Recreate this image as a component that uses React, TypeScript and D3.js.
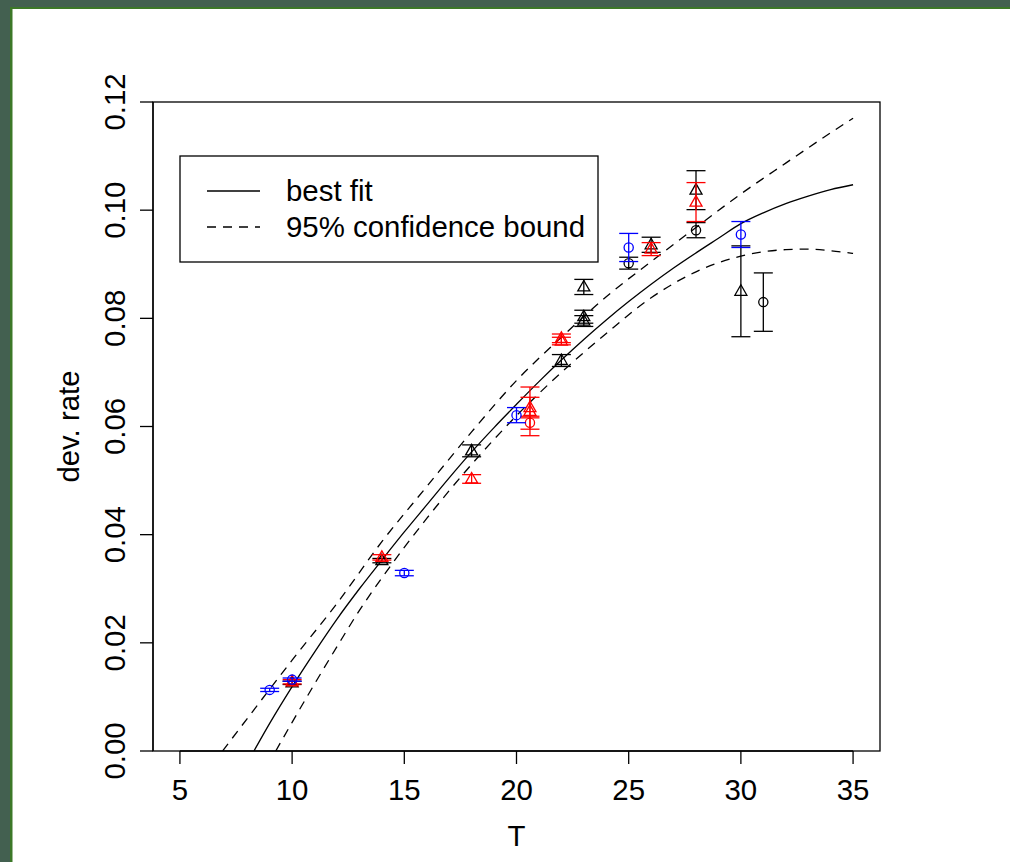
import * as d3 from "d3";
import { useEffect, useRef } from "react";

// x ticks / y ticks as printed on the axes
const xTicks = [5, 10, 15, 20, 25, 30, 35];
const yTicks = [0, 0.02, 0.04, 0.06, 0.08, 0.1, 0.12];

// curves: [T, rate]
const bestFit: [number, number][] = [
  [8.3, 0], [9, 0.0051], [10, 0.0119], [11, 0.0183], [12, 0.0244], [13, 0.03],
  [14, 0.0353], [15, 0.0405], [16, 0.0455], [17, 0.0505], [18, 0.0553],
  [19, 0.0598], [20, 0.0641], [21, 0.0683], [22, 0.0723], [23, 0.0761],
  [24, 0.0797], [25, 0.0831], [26, 0.0863], [27, 0.0893], [28, 0.0921],
  [29, 0.0948], [30, 0.0975], [31, 0.0995], [32, 0.1012], [33, 0.1026],
  [34, 0.1038], [35, 0.1047],
];
const upperBound: [number, number][] = [
  [6.9, 0], [8, 0.006], [10, 0.0168], [12, 0.0273], [14, 0.0387], [16, 0.0489],
  [18, 0.059], [20, 0.0685], [22, 0.0765], [24, 0.084], [26, 0.0905],
  [28, 0.0968], [30, 0.103], [32, 0.1087], [34, 0.1143], [35, 0.117],
];
const lowerBound: [number, number][] = [
  [9.27, 0], [10, 0.0053], [11, 0.0124], [12, 0.0193], [13, 0.026], [14, 0.032],
  [16, 0.043], [18, 0.053], [20, 0.062], [22, 0.07], [24, 0.0772], [26, 0.0838],
  [28, 0.0886], [30, 0.0915], [32, 0.0927], [33, 0.0928], [34, 0.0925], [35, 0.092],
];

// observations: [T, rate, half error]
const blueCircles = [
  [9, 0.0113, 0.0003], [10, 0.0132, 0.0003], [15, 0.0329, 0.0005],
  [20, 0.0621, 0.0014], [25, 0.0931, 0.0026], [30, 0.0955, 0.0024],
];
const redTriangles = [
  [10, 0.0128, 0.0004], [14, 0.0358, 0.0005], [18, 0.0503, 0.0008],
  [20.6, 0.0628, 0.0045], [20.6, 0.0635, 0.0019], [22, 0.0763, 0.0008],
  [22, 0.0758, 0.0007], [26, 0.0928, 0.0012], [28, 0.1015, 0.0036],
];
const redCircles = [[20.6, 0.0607, 0.0012]];
const blackTriangles = [
  [10, 0.0126, 0.0003], [14, 0.0352, 0.0004], [18, 0.0555, 0.0011],
  [22, 0.0722, 0.0011], [23, 0.0858, 0.0014], [23, 0.0803, 0.0012],
  [23, 0.0795, 0.001], [26, 0.0936, 0.0014], [28, 0.1037, 0.0036],
  [30, 0.085, 0.0084],
];
const blackCircles = [[25, 0.0902, 0.0011], [28, 0.0963, 0.0014], [31, 0.083, 0.0054]];

const legendLabels = ["best fit", "95% confidence bound"];

const W = 1010;
const H = 862;
const FONT = "Liberation Sans, Arial, sans-serif";

function App() {
  const ref = useRef(null);

  useEffect(() => {
    const svg = d3.select(ref.current);
    svg.selectAll("*").remove();

    const x = d3.scaleLinear().domain([3.8, 36.2]).range([153, 880]);
    const y = d3.scaleLinear().domain([0, 0.12]).range([751, 102]);

    svg.append("rect").attr("width", W).attr("height", H).attr("fill", "white");
    // window frame
    svg.append("rect").attr("width", W).attr("height", 9).attr("fill", "#3c7828");
    svg.append("rect").attr("width", 12.5).attr("height", H).attr("fill", "#3c7828");
    svg.append("rect").attr("width", W).attr("height", 7).attr("fill", "#436050");
    svg.append("rect").attr("width", 10).attr("height", H).attr("fill", "#436050");

    const g = svg.append("g").attr("font-family", FONT).attr("font-size", 29.4);

    // plot box
    g.append("rect")
      .attr("x", 153).attr("y", 102).attr("width", 727).attr("height", 649)
      .attr("fill", "none").attr("stroke", "black").attr("stroke-width", 1.3);

    // x axis
    const xa = g.append("g");
    xa.append("line")
      .attr("x1", x(5)).attr("x2", x(35)).attr("y1", 751).attr("y2", 751)
      .attr("stroke", "black").attr("stroke-width", 1.3);
    xTicks.forEach((t) => {
      xa.append("line")
        .attr("x1", x(t)).attr("x2", x(t)).attr("y1", 751).attr("y2", 764)
        .attr("stroke", "black").attr("stroke-width", 1.3);
      xa.append("text")
        .attr("x", x(t)).attr("y", 800).attr("text-anchor", "middle").text(t);
    });
    g.append("text").attr("x", x(20)).attr("y", 846).attr("text-anchor", "middle").text("T");

    // y axis
    const ya = g.append("g");
    ya.append("line")
      .attr("x1", 153).attr("x2", 153).attr("y1", y(0)).attr("y2", y(0.12))
      .attr("stroke", "black").attr("stroke-width", 1.3);
    yTicks.forEach((t) => {
      ya.append("line")
        .attr("x1", 140).attr("x2", 153).attr("y1", y(t)).attr("y2", y(t))
        .attr("stroke", "black").attr("stroke-width", 1.3);
      ya.append("text")
        .attr("transform", `translate(125,${y(t)}) rotate(-90)`)
        .attr("text-anchor", "middle")
        .text(d3.format(".2f")(t));
    });
    g.append("text")
      .attr("transform", `translate(79,${y(0.06)}) rotate(-90)`)
      .attr("text-anchor", "middle")
      .text("dev. rate");

    // curves, clipped to the plot region
    svg.append("clipPath").attr("id", "plotclip")
      .append("rect").attr("x", 153).attr("y", 102).attr("width", 727).attr("height", 649);
    const line = d3.line<[number, number]>()
      .x((d) => x(d[0]))
      .y((d) => y(d[1]))
      .curve(d3.curveMonotoneX);
    const curves = g.append("g").attr("clip-path", "url(#plotclip)");
    curves.append("path").attr("d", line(bestFit))
      .attr("fill", "none").attr("stroke", "black").attr("stroke-width", 1.3);
    [upperBound, lowerBound].forEach((c) => {
      curves.append("path").attr("d", line(c))
        .attr("fill", "none").attr("stroke", "black").attr("stroke-width", 1.3)
        .attr("stroke-dasharray", "9,7");
    });

    // error bars + symbols
    const drawSet = (data: number[][], color: string, shape: "circle" | "triangle") => {
      const s = g.append("g").attr("stroke", color).attr("fill", "none").attr("stroke-width", 1.3);
      data.forEach(([t, r, e]) => {
        const cx = x(t);
        const cy = y(r);
        const top = y(r + e);
        const bot = y(r - e);
        s.append("line").attr("x1", cx).attr("x2", cx).attr("y1", top).attr("y2", bot);
        s.append("line").attr("x1", cx - 9.5).attr("x2", cx + 9.5).attr("y1", top).attr("y2", top);
        s.append("line").attr("x1", cx - 9.5).attr("x2", cx + 9.5).attr("y1", bot).attr("y2", bot);
        if (shape === "circle") {
          s.append("circle").attr("cx", cx).attr("cy", cy).attr("r", 4.6);
        } else {
          s.append("path").attr("d", `M${cx},${cy - 6.5}L${cx + 6},${cy + 4}L${cx - 6},${cy + 4}Z`);
        }
      });
    };
    drawSet(blackTriangles, "black", "triangle");
    drawSet(blackCircles, "black", "circle");
    drawSet(redTriangles, "red", "triangle");
    drawSet(redCircles, "red", "circle");
    drawSet(blueCircles, "blue", "circle");

    // legend
    const lg = g.append("g");
    lg.append("rect")
      .attr("x", 180).attr("y", 156).attr("width", 418).attr("height", 106)
      .attr("fill", "white").attr("stroke", "black").attr("stroke-width", 1.3);
    legendLabels.forEach((label, i) => {
      const ly = 191 + i * 36;
      lg.append("line")
        .attr("x1", 207).attr("x2", 260).attr("y1", ly).attr("y2", ly)
        .attr("stroke", "black").attr("stroke-width", 1.3)
        .attr("stroke-dasharray", i === 1 ? "9,7" : null);
      lg.append("text").attr("x", 286).attr("y", ly + 10).text(label);
    });
  });

  return (
    <svg
      ref={ref}
      width={W}
      height={H}
      style={{ position: "fixed", left: 0, top: 0, display: "block" }}
    />
  );
}

export default App;
